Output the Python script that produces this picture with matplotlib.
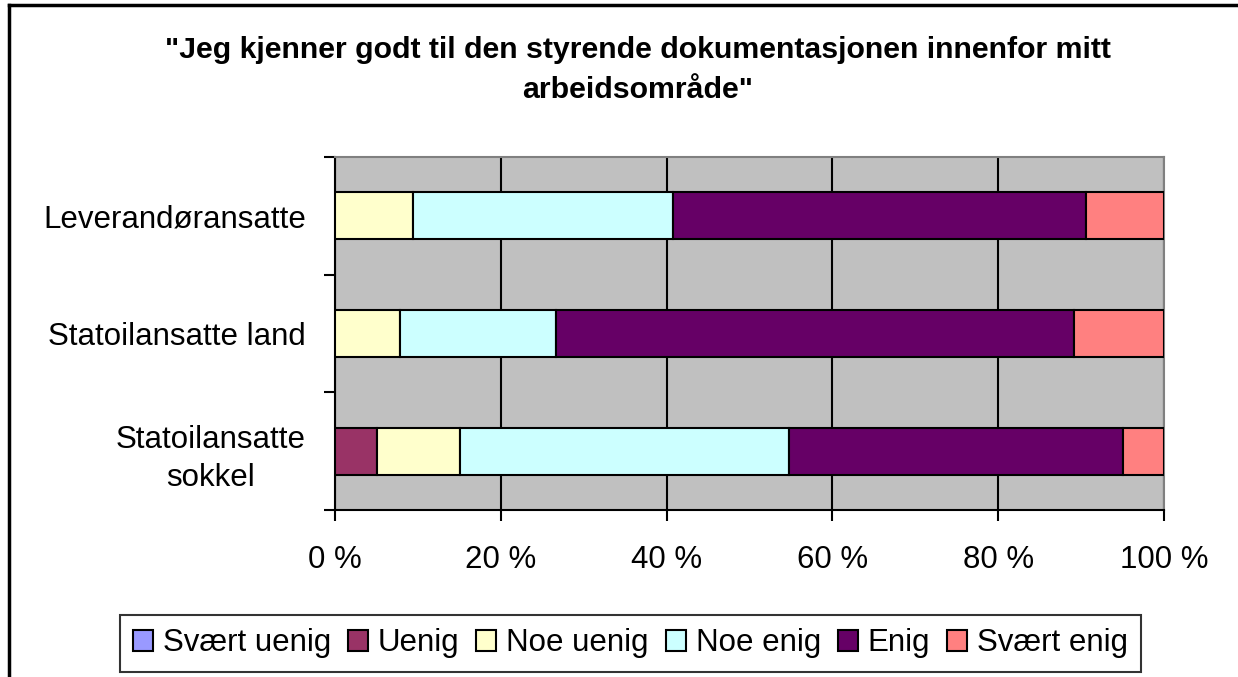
import matplotlib
matplotlib.use("Agg")
import matplotlib.pyplot as plt
from matplotlib.patches import Patch
from matplotlib.lines import Line2D

plt.rcParams['font.family'] = ['Liberation Sans', 'DejaVu Sans']

categories = ["Leverandøransatte", "Statoilansatte land", "Statoilansatte\nsokkel"]
series_names = ["Svært uenig", "Uenig", "Noe uenig", "Noe enig", "Enig", "Svært enig"]
svaert_uenig = [0.0, 0.0, 0.0]
uenig = [0.0, 0.0, 5.1]
noe_uenig = [9.4, 7.9, 10.0]
noe_enig = [31.4, 18.8, 39.7]
enig = [49.8, 62.4, 40.3]
svaert_enig = [9.4, 10.9, 4.9]
series_values = [svaert_uenig, uenig, noe_uenig, noe_enig, enig, svaert_enig]
colors = ["#9999FF", "#993366", "#FFFFCC", "#CCFFFF", "#660066", "#FF8080"]
xticks = [0, 20, 40, 60, 80, 100]
xticklabels = ["0 %", "20 %", "40 %", "60 %", "80 %", "100 %"]
title = "\"Jeg kjenner godt til den styrende dokumentasjonen innenfor mitt\narbeidsområde\""

W, H = 1238, 677
fig = plt.figure(figsize=(W / 100, H / 100), dpi=100)
ax = fig.add_axes([335 / W, 1 - 510 / H, (1164 - 335) / W, (510 - 157) / H])
ax.set_facecolor("#C0C0C0")

ypos = list(range(len(categories)))
left = [0.0] * len(categories)
for name, vals, col in zip(series_names, series_values, colors):
    ax.barh(ypos, vals, left=left, height=0.4, color=col, edgecolor="black",
            linewidth=1.5, label=name, zorder=3)
    left = [l + v for l, v in zip(left, vals)]

ax.set_xlim(0, 100)
ax.set_ylim(len(categories) - 0.5, -0.5)
ax.set_xticks(xticks)
ax.set_xticklabels(xticklabels, fontsize=22.5)
ax.set_yticks(ypos)
ax.set_yticklabels(categories, fontsize=22.5, multialignment="center", linespacing=1.35)
ax.tick_params(axis="y", length=0, pad=21)
ax.tick_params(axis="x", length=8, width=1.5, pad=17, direction="out")
# category boundary ticks
ax.set_yticks([i - 0.5 for i in range(len(categories) + 1)], minor=True)
ax.tick_params(axis="y", which="minor", length=8, width=1.5, direction="out")

ax.xaxis.grid(True, color="black", linewidth=1.5, zorder=1)
ax.set_axisbelow(True)
for s in ["left", "bottom"]:
    ax.spines[s].set_color("black")
    ax.spines[s].set_linewidth(1.5)
for s in ["top", "right"]:
    ax.spines[s].set_color("#808080")
    ax.spines[s].set_linewidth(1.5)

fig.text(638 / W, 1 - 70 / H, title, ha="center", va="center", fontsize=21.8,
         fontweight="bold", linespacing=1.5)

handles = [Patch(facecolor=c, edgecolor="black", linewidth=1.5) for c in colors]
leg = fig.legend(handles, series_names, loc="center", bbox_to_anchor=(630.5 / W, 1 - 643.5 / H),
                 ncol=6, fontsize=22.5, frameon=True, fancybox=False, handlelength=0.64,
                 handleheight=0.64, handletextpad=0.32, columnspacing=0.54, borderpad=0.42)
leg.get_frame().set_edgecolor("black")
leg.get_frame().set_linewidth(1.5)

# outer chart border (top and left visible)
fig.add_artist(Line2D([9 / W, 9 / W], [0, 1 - 5 / H], color="black", linewidth=2.5))
fig.add_artist(Line2D([9 / W, 1], [1 - 5 / H, 1 - 5 / H], color="black", linewidth=2.5))

fig.savefig("out.png", dpi=100)
